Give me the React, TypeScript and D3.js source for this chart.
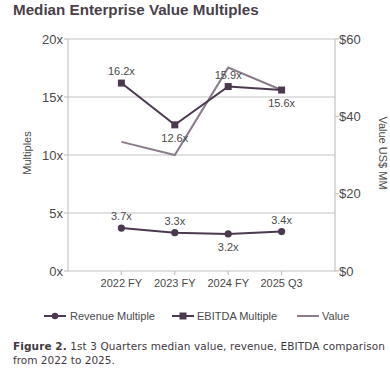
import React from "react";
import * as d3 from "d3";

const categories = ["2022 FY", "2023 FY", "2024 FY", "2025 Q3"];
const revenueMultiple = [3.7, 3.3, 3.2, 3.4];
const ebitdaMultiple = [16.2, 12.6, 15.9, 15.6];
const valueUSD = [33.4, 30.0, 52.6, 46.8];
const leftTicks = [0, 5, 10, 15, 20];
const rightTicks = [0, 20, 40, 60];
const revenueLabelPos = ["above", "above", "below", "above"];
const ebitdaLabelPos = ["above", "below", "above", "below"];

const W = 390;
const H = 380;
const left = 68;
const right = 335;
const top = 39;
const bottom = 271;

const dark = "#4b3a4f";
const light = "#8b7c8c";
const grid = "#c4c4c4";
const textCol = "#4a4a4a";
const sans = "'Liberation Sans', Arial, sans-serif";

export default function App() {
  const x = d3.scalePoint<string>().domain(categories).range([left, right]).padding(1);
  const yL = d3.scaleLinear().domain([0, 20]).range([bottom, top]);
  const yR = d3.scaleLinear().domain([0, 60]).range([bottom, top]);

  const lineL = d3
    .line<number>()
    .x((_, i) => x(categories[i]) as number)
    .y((d) => yL(d));
  const lineR = d3
    .line<number>()
    .x((_, i) => x(categories[i]) as number)
    .y((d) => yR(d));

  return (
    <svg width={W} height={H} style={{ position: "absolute", left: 0, top: 0 }}>
      <rect width={W} height={H} fill="#fff" />
      <text x={13} y={15} fontFamily={sans} fontWeight="bold" fontSize={15.2} fill="#4a3f4b">
        Median Enterprise Value Multiples
      </text>

      {/* gridlines */}
      {leftTicks.map((t) => (
        <line key={"g" + t} x1={left} x2={right} y1={yL(t)} y2={yL(t)} stroke={grid} strokeWidth={1.2} />
      ))}
      <line x1={left} x2={left} y1={top} y2={bottom} stroke={grid} strokeWidth={1.2} />
      <line x1={right} x2={right} y1={top} y2={bottom} stroke={grid} strokeWidth={1.2} />

      {/* left ticks */}
      {leftTicks.map((t) => (
        <g key={"l" + t}>
          <line x1={left - 4} x2={left} y1={yL(t)} y2={yL(t)} stroke={grid} strokeWidth={1.2} />
          <text x={left - 5} y={yL(t) + 4.5} textAnchor="end" fontFamily={sans} fontSize={13} fill={textCol}>
            {t + "x"}
          </text>
        </g>
      ))}
      {/* right ticks */}
      {rightTicks.map((t) => (
        <g key={"r" + t}>
          <line x1={right} x2={right + 4} y1={yR(t)} y2={yR(t)} stroke={grid} strokeWidth={1.2} />
          <text x={right + 4} y={yR(t) + 4.5} textAnchor="start" fontFamily={sans} fontSize={13} fill={textCol}>
            {"$" + t}
          </text>
        </g>
      ))}
      {/* x ticks */}
      {categories.map((c) => (
        <g key={c}>
          <line x1={x(c)} x2={x(c)} y1={bottom} y2={bottom + 4} stroke={grid} strokeWidth={1.2} />
          <text x={x(c)} y={bottom + 16} textAnchor="middle" fontFamily={sans} fontSize={11} fill={textCol}>
            {c}
          </text>
        </g>
      ))}

      {/* axis titles */}
      <text
        transform={`translate(31,${(top + bottom) / 2 - 2}) rotate(-90)`}
        textAnchor="middle"
        fontFamily={sans}
        fontSize={11}
        fill={textCol}
      >
        Multiples
      </text>
      <text
        transform={`translate(379,${(top + bottom) / 2 - 2}) rotate(90)`}
        textAnchor="middle"
        fontFamily={sans}
        fontSize={11}
        fill={textCol}
      >
        Value US$ MM
      </text>

      {/* value line */}
      <path d={lineR(valueUSD) || ""} fill="none" stroke={light} strokeWidth={2} />
      {/* EBITDA */}
      <path d={lineL(ebitdaMultiple) || ""} fill="none" stroke={dark} strokeWidth={2} />
      {ebitdaMultiple.map((v, i) => (
        <rect key={"e" + i} x={(x(categories[i]) as number) - 3.5} y={yL(v) - 3.5} width={7} height={7} fill={dark} />
      ))}
      {/* Revenue */}
      <path d={lineL(revenueMultiple) || ""} fill="none" stroke={dark} strokeWidth={2} />
      {revenueMultiple.map((v, i) => (
        <circle key={"rv" + i} cx={x(categories[i]) as number} cy={yL(v)} r={3.6} fill={dark} />
      ))}

      {/* data labels */}
      {ebitdaMultiple.map((v, i) => (
        <text
          key={"el" + i}
          x={x(categories[i]) as number}
          y={ebitdaLabelPos[i] === "above" ? yL(v) - 8 : yL(v) + 17}
          textAnchor="middle"
          fontFamily={sans}
          fontSize={11}
          fill={textCol}
        >
          {v.toFixed(1) + "x"}
        </text>
      ))}
      {revenueMultiple.map((v, i) => (
        <text
          key={"rl" + i}
          x={x(categories[i]) as number}
          y={revenueLabelPos[i] === "above" ? yL(v) - 8 : yL(v) + 17}
          textAnchor="middle"
          fontFamily={sans}
          fontSize={11}
          fill={textCol}
        >
          {v.toFixed(1) + "x"}
        </text>
      ))}

      {/* legend */}
      <g fontFamily={sans} fontSize={11} fill={textCol}>
        <line x1={44} x2={66} y1={316} y2={316} stroke={dark} strokeWidth={2} />
        <circle cx={55} cy={316} r={3.3} fill={dark} />
        <text x={70} y={320}>Revenue Multiple</text>
        <line x1={172} x2={194} y1={316} y2={316} stroke={dark} strokeWidth={2} />
        <rect x={179.5} y={312.5} width={7} height={7} fill={dark} />
        <text x={197} y={320}>EBITDA Multiple</text>
        <line x1={297} x2={319} y1={316} y2={316} stroke={light} strokeWidth={2} />
        <text x={322} y={320}>Value</text>
      </g>

      {/* caption */}
      <g fontFamily="'DejaVu Sans', Verdana, sans-serif" fontSize={10.5} fill="#3f3a42">
        <text x={13} y={350} textLength={372} lengthAdjust="spacing">
          <tspan fontWeight="bold">Figure 2.</tspan>
          <tspan> 1st 3 Quarters median value, revenue, EBITDA comparison</tspan>
        </text>
        <text x={13} y={364}>from 2022 to 2025.</text>
      </g>
    </svg>
  );
}
